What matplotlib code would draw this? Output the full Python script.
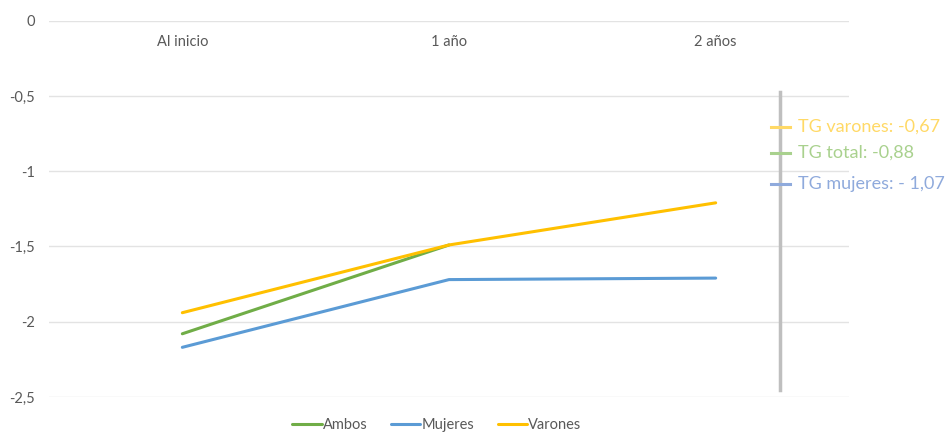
import matplotlib
matplotlib.use("Agg")
import matplotlib.pyplot as plt
from matplotlib import transforms

plt.rcParams['font.family'] = ['Lato', 'DejaVu Sans']

# datos
periodos = ['Al inicio', '1 año', '2 años']
ambos = [-2.08, -1.49, None]
mujeres = [-2.17, -1.72, -1.71]
varones = [-1.94, -1.49, -1.21]
yticks = [0, -0.5, -1, -1.5, -2, -2.5]
ylabels = ['0', '-0,5', '-1', '-1,5', '-2', '-2,5']
tg_textos = ['TG varones: -0,67', 'TG total: -0,88', 'TG mujeres: - 1,07']

c_ambos = '#70AD47'
c_muj = '#5B9BD5'
c_var = '#FFC000'
gris = '#595959'

fig = plt.figure(figsize=(9.52, 4.32), dpi=100)
ax = fig.add_axes([49/952, 1-397/432, 800/952, (397-20.7)/432])

x = list(range(len(periodos)))
xa = [i for i, v in zip(x, ambos) if v is not None]
ya = [v for v in ambos if v is not None]
ax.plot(xa, ya, color=c_ambos, lw=2.2, label='Ambos', solid_capstyle='round')
ax.plot(x, mujeres, color=c_muj, lw=2.2, label='Mujeres', solid_capstyle='round')
ax.plot(x, varones, color=c_var, lw=2.2, label='Varones', solid_capstyle='round')

ax.set_xlim(-0.5, 2.5)
ax.set_ylim(-2.5, 0)
ax.set_yticks(yticks)
ax.set_yticklabels(ylabels, color=gris, fontsize=10.5)
ax.tick_params(axis='y', length=0, pad=10)
ax.set_xticks([])
ax.grid(axis='y', color='#E3E3E3', lw=1)
ax.set_axisbelow(True)
for s in ax.spines.values():
    s.set_visible(False)

# etiquetas de categoría dentro del área
tr = transforms.blended_transform_factory(ax.transData, ax.transAxes)
for i, p in enumerate(periodos):
    ax.text(i, 1 - 21/376.3, p, transform=tr, ha='center', va='center',
            color=gris, fontsize=10.5)

# barra vertical con tasas de crecimiento
ax.add_line(plt.Line2D([780/952, 780/952], [1-92/432, 1-390/432],
                       transform=fig.transFigure, color='#BFBFBF', lw=2.5))
tg_col = ['#FFD966', '#A9D18E', '#8FAADC']
tg_y = [127, 153, 184]
for txt, col, yy in zip(tg_textos, tg_col, tg_y):
    fy = 1 - yy/432
    ax.add_line(plt.Line2D([771/952, 790/952], [fy, fy], transform=fig.transFigure,
                           color=col, lw=2.2))
    fig.text(798/952, fy, txt, color=col, fontsize=13, va='center', ha='left')

leg = fig.legend(loc='center', bbox_to_anchor=(437/952, 1-425/432), ncol=3,
                 frameon=False, fontsize=10.5, handlelength=2.0, handletextpad=0.1,
                 columnspacing=1.6)
for t in leg.get_texts():
    t.set_color(gris)

fig.savefig('out.png', dpi=100)
